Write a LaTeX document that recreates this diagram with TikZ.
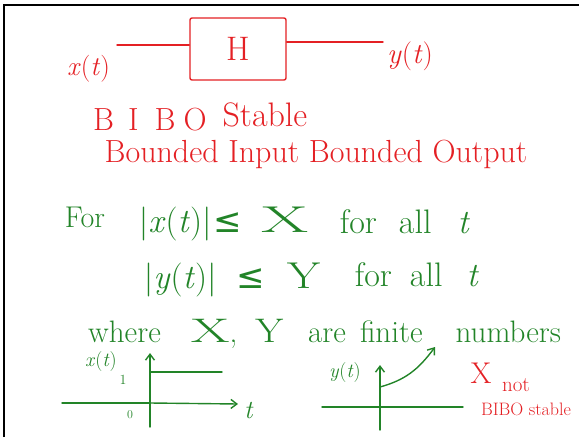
\documentclass[tikz,border=0pt]{standalone}
\usepackage{fontspec}
\newfontfamily\symf{DejaVu Sans}
\usetikzlibrary{arrows.meta}
\definecolor{hred}{RGB}{228,32,36}
\definecolor{hgreen}{RGB}{34,132,40}
\newcommand{\vx}{\textit{x}(\textit{t})}
\newcommand{\vy}{\textit{y}(\textit{t})}
\newcommand{\leqsym}{{\symf ≤}}
\newcommand{\bigX}{\scalebox{2}[1.1]{X}}
\newcommand{\bigY}{\scalebox{1.4}[1.1]{Y}}
\begin{document}
\begin{tikzpicture}[x=1pt,y=-1pt,
  redtxt/.style={text=hred,inner sep=0pt},
  grntxt/.style={text=hgreen,inner sep=0pt},
  redline/.style={draw=hred,line width=1.4pt,line cap=round},
  grnline/.style={draw=hgreen,line width=1.4pt,line cap=round},
  hbox/.style={draw=hred,line width=1.4pt,rounded corners=2pt,minimum width=96pt,minimum height=62pt,text=hred,font=\fontsize{34}{38}\selectfont},
  tip/.style={-{Straight Barb[length=6pt,width=9pt]}}]
\useasboundingbox (0,0) rectangle (579,437);
\draw[black,line width=1.5pt] (4,437) -- (4,5) -- (579,5);
% block diagram
\node[hbox] (H) at (238,49) {H};
\node[redtxt,font=\fontsize{27}{31}\selectfont,anchor=base west] (xin) at (67,75) {\vx};
\node[redtxt,font=\fontsize{29}{33}\selectfont,anchor=base west] (yout) at (387,63) {\vy};
\coordinate (inend) at (117,45);
\coordinate (outend) at (383,42);
\draw[redline] (inend) -- (H.west |- inend);
\draw[redline] (H.east |- outend) -- (outend);
\node[redtxt,font=\fontsize{32}{36}\selectfont,anchor=base west] (bibo) at (93,130) {B\hspace{14pt}I\hspace{16pt}B\hspace{8pt}O\hspace{16pt}\raisebox{4pt}{\fontsize{34}{38}\selectfont Stable}};
\node[redtxt,font=\fontsize{32}{36}\selectfont] (bibofull) at (316,154) {Bounded Input Bounded Output};
% conditions
\node[grntxt,font=\fontsize{30}{34}\selectfont] (for) at (85,217) {For};
\node[grntxt,font=\fontsize{34}{38}\selectfont] (cx) at (224,224) {|\vx|\hspace{2pt}\leqsym\hspace{20pt}\bigX};
\node[grntxt,font=\fontsize{34}{38}\selectfont] (fx) at (405,222) {for\hspace{22pt}all\hspace{26pt}\textit{t}};
\node[grntxt,font=\fontsize{34}{38}\selectfont] (cy) at (232,280) {|\vy|\hspace{20pt}\leqsym\hspace{22pt}\bigY};
\node[grntxt,font=\fontsize{34}{38}\selectfont] (fy) at (417,275) {for\hspace{18pt}all\hspace{24pt}\textit{t}};
\node[grntxt,font=\fontsize{31}{35}\selectfont,anchor=base west] (where) at (88,342) {where\hspace{30pt}\scalebox{1.8}[1.1]{X},\hspace{18pt}\scalebox{1.3}[1.1]{Y}\hspace{25pt}are\hspace{14pt}finite\hspace{33pt}numbers};
% plot 1
\coordinate (o1) at (150,403);
\coordinate (a1l) at (62,403);
\coordinate (a1r) at (238,404);
\coordinate (a1b) at (150,427);
\coordinate (a1t) at (150,353);
\coordinate (s1a) at (150,372);
\coordinate (s1b) at (222,372);
\draw[grnline] (a1l) -- (o1);
\draw[grnline,tip] (o1) -- (a1r);
\draw[grnline,tip] (a1b) -- (a1t);
\draw[grnline] (s1a) -- (s1b);
\node[grntxt,font=\fontsize{20}{23}\selectfont] (xl) at (101,362) {\vx};
\node[grntxt,font=\fontsize{14}{16}\selectfont] (one) at (123,380) {1};
\node[grntxt,font=\fontsize{12}{14}\selectfont] (zero) at (130,415) {0};
\node[grntxt,font=\fontsize{26}{30}\selectfont] (tl) at (249,410) {\textit{t}};
% plot 2
\coordinate (o2) at (380,407);
\coordinate (a2l) at (322,407);
\coordinate (a2r) at (463,407);
\coordinate (a2b) at (380,430);
\coordinate (a2t) at (380,365);
\coordinate (c2a) at (380,387);
\coordinate (c2b) at (435,347);
\draw[grnline] (a2l) -- (a2r);
\draw[grnline,tip] (a2b) -- (a2t);
\draw[grnline,tip] (c2a) .. controls (405,380) and (418,370) .. (c2b);
\node[grntxt,font=\fontsize{20}{23}\selectfont] (yl) at (345,373) {\vy};
\node[redtxt,font=\fontsize{30}{34}\selectfont] (cross) at (481,373) {X};
\node[redtxt,font=\fontsize{21}{24}\selectfont] (nt) at (516,385) {not};
\node[redtxt,font=\fontsize{18}{20}\selectfont] (bs) at (526,409) {BIBO stable};
\end{tikzpicture}
\end{document}
